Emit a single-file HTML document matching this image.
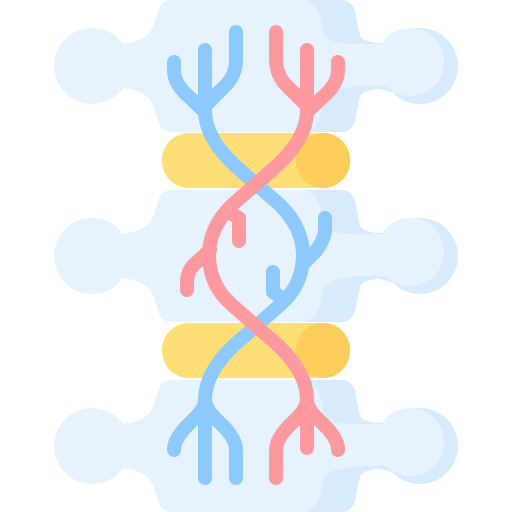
<!DOCTYPE html>
<html><head><meta charset="utf-8"><style>html,body{margin:0;padding:0;background:#fff}svg{display:block}</style></head>
<body>
<svg width="512" height="512" viewBox="0 0 512 512">
<defs>
<g id="vert">
  <circle cx="92" cy="0" r="38" fill="#e6f3ff"/>
  <path d="M115,-22 Q150,-22 155,-45 L160,-60 Q163,-66 175,-66 L340,-66 Q352,-66 355,-55 L360,-30 Q365,-22 392,-22 L392,22 Q365,22 360,30 L355,55 Q352,66 340,66 L175,66 Q163,66 160,60 L155,45 Q150,22 115,22 Z" fill="#e6f3ff"/>
  <path d="M305,-66 L340,-66 Q352,-66 355,-55 L360,-30 Q365,-22 392,-22 L392,22 Q365,22 360,30 L355,55 Q352,66 340,66 L305,66 Q320,60 322,40 Q324,22 350,22 L350,-22 Q324,-22 322,-40 Q320,-60 305,-66 Z" fill="#d7ebfd"/>
  <path d="M375,22 Q395,26 400,30 L400,-30 Q395,-26 375,-22 Z" fill="#d7ebfd"/>
  <circle cx="420" cy="0" r="38" fill="#d7ebfd"/>
  <circle cx="410" cy="-4" r="34" fill="#e6f3ff"/>
  <path d="M330,-22 L395,-22 L395,20 L330,20 Z" fill="#e6f3ff"/>
</g>
</defs>
<g><use href="#vert" transform="translate(0,66)"/></g>
<g><use href="#vert" transform="translate(0,256)"/></g>
<g><use href="#vert" transform="translate(0,446)"/></g>
<g>
  <rect x="162" y="133" width="188" height="55" rx="27" fill="#fedf77"/>
  <rect x="296" y="133" width="54" height="55" rx="27" fill="#fecd5a"/>
</g>
<g>
  <rect x="162" y="323" width="188" height="55" rx="27" fill="#fedf77"/>
  <rect x="296" y="323" width="54" height="55" rx="27" fill="#fecd5a"/>
</g>
<g fill="none" stroke="#8ec9fd" stroke-width="14" stroke-linecap="round" stroke-linejoin="round">
  <path d="M205,50 V110 Q205,140 240,170 L280,205 Q303,228 303,255 Q303,285 280,305 L240,340 Q205,370 205,400 V478"/>
  <path d="M174,62 V70 Q174,82 185,93 L205,112"/>
  <path d="M236,32 V60 Q236,75 225,86 L205,106"/>
  <path d="M325,218 V228 Q325,240 315,252 L302,265"/>
  <path d="M273,272 V292 L285,300"/>
  <path d="M205,400 Q205,408 195,418 L185,428 Q174,440 174,450"/>
  <path d="M205,398 Q205,408 215,418 L225,428 Q236,440 236,450 V478"/>
</g>
<g fill="none" stroke="#fe99a0" stroke-width="14" stroke-linecap="round" stroke-linejoin="round">
  <path d="M307,50 V110 Q307,140 272,170 L232,205 Q209,228 209,255 Q209,285 232,305 L272,340 Q307,370 307,400 V448"/>
  <path d="M338,62 V70 Q338,82 327,93 L307,112"/>
  <path d="M276,32 V60 Q276,75 287,86 L307,106"/>
  <path d="M187,290 V282 Q187,270 197,262 L210,250"/>
  <path d="M239,241 V218 L228,212"/>
  <path d="M307,400 Q307,408 317,418 L327,428 Q338,440 338,450"/>
  <path d="M307,398 Q307,408 297,418 L287,428 Q276,440 276,450 V478"/>
</g>
</svg>
</body></html>
